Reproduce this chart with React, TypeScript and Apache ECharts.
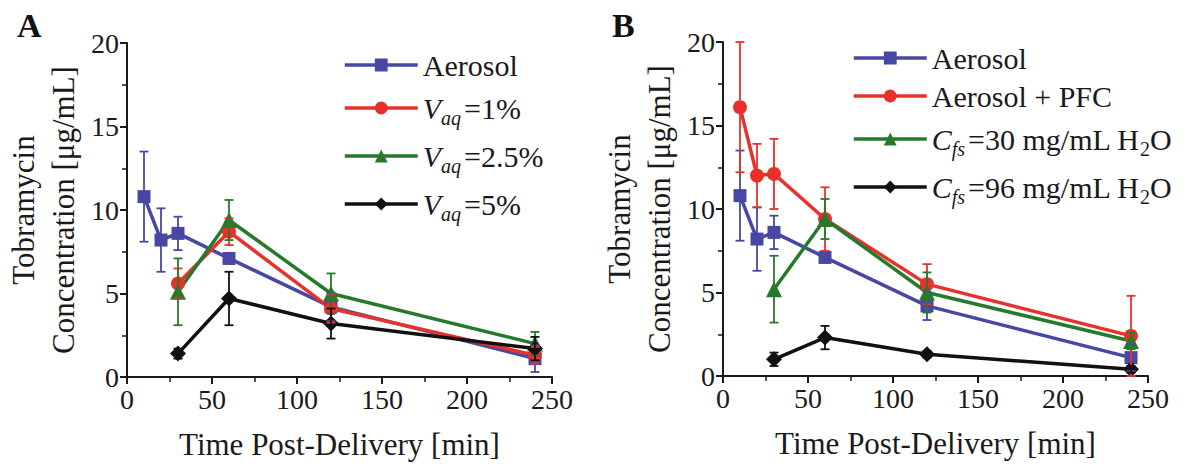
import React, { useEffect, useRef } from 'react';
import * as echarts from 'echarts';

// ---- data ----
const timeAll = [10, 20, 30, 60, 120, 240];
const timeLate = [30, 60, 120, 240];

const aerosolMean = [10.8, 8.2, 8.6, 7.1, 4.2, 1.1];
const aerosolErr = [2.7, 1.9, 1.0, 0.3, 0.85, 0.8];

const vaq1Mean = [5.6, 8.7, 4.1, 1.3];
const vaq1Err = [0.9, 0.8, 0.85, 0.5];
const vaq25Mean = [5.1, 9.4, 5.0, 2.0];
const vaq25Err = [2.0, 1.2, 1.2, 0.7];
const vaq5Mean = [1.4, 4.7, 3.2, 1.7];
const vaq5Err = [0.3, 1.6, 0.9, 0.7];

const pfcMean = [16.1, 12.0, 12.1, 9.4, 5.5, 2.4];
const pfcErr = [3.9, 1.9, 2.1, 1.9, 1.2, 2.4];
const cfs30Mean = [5.2, 9.4, 5.0, 2.1];
const cfs30Err = [2.0, 1.2, 1.2, 0.5];
const cfs96Mean = [1.0, 2.3, 1.3, 0.4];
const cfs96Err = [0.4, 0.7, 0.2, 0.2];

const legendA = ['Aerosol', 'Vaq = 1%', 'Vaq = 2.5%', 'Vaq = 5%'];
const legendB = ['Aerosol', 'Aerosol + PFC', 'Cfs = 30 mg/mL H2O', 'Cfs = 96 mg/mL H2O'];

const FONT = '"Liberation Serif", "Times New Roman", Times, serif';
const TXT = '#1a1a1a';
const BLUE = '#4848a4';
const RED = '#e8312b';
const GREEN = '#267a2c';
const BLACK = '#111111';

const legendRich: Record<string, string> = {
  'Aerosol': 'Aerosol',
  'Aerosol + PFC': 'Aerosol + PFC',
  'Vaq = 1%': '{i|V}{s|aq}{n|=1%}',
  'Vaq = 2.5%': '{i|V}{s|aq}{n|=2.5%}',
  'Vaq = 5%': '{i|V}{s|aq}{n|=5%}',
  'Cfs = 30 mg/mL H2O': '{i|C}{s|fs}{n|=30 mg/mL H}{h|2}{n|O}',
  'Cfs = 96 mg/mL H2O': '{i|C}{s|fs}{n|=96 mg/mL H}{h|2}{n|O}',
};

function lineSeries(name: string, xs: number[], ys: number[], color: string, symbol: string, size: number, gi: number) {
  return {
    type: 'line',
    name,
    xAxisIndex: gi,
    yAxisIndex: gi,
    data: xs.map((x, i) => [x, ys[i]]),
    symbol,
    symbolSize: size,
    showAllSymbol: true,
    lineStyle: { color, width: 3.5 },
    itemStyle: { color },
    z: 3,
  };
}

function errSeries(name: string, xs: number[], ys: number[], es: number[], color: string, gi: number) {
  return {
    type: 'custom',
    name: name + ' (SD)',
    xAxisIndex: gi,
    yAxisIndex: gi,
    silent: true,
    z: 4,
    data: xs.map((x, i) => [x, Math.max(0, ys[i] - es[i]), ys[i] + es[i]]),
    encode: { x: 0, y: [1, 2] },
    renderItem: (_p: any, api: any) => {
      const top = api.coord([api.value(0), api.value(2)]);
      const bot = api.coord([api.value(0), api.value(1)]);
      const w = 4.5;
      const st = { stroke: color, lineWidth: 1.8 };
      return {
        type: 'group',
        children: [
          { type: 'line', shape: { x1: top[0], y1: top[1], x2: bot[0], y2: bot[1] }, style: st },
          { type: 'line', shape: { x1: top[0] - w, y1: top[1], x2: top[0] + w, y2: top[1] }, style: st },
          { type: 'line', shape: { x1: bot[0] - w, y1: bot[1], x2: bot[0] + w, y2: bot[1] }, style: st },
        ],
      };
    },
  };
}

function xAxis(gi: number) {
  return {
    type: 'value',
    gridIndex: gi,
    min: 0,
    max: 250,
    interval: 50,
    splitLine: { show: false },
    axisLine: { show: true, onZero: false, lineStyle: { color: TXT, width: 2 } },
    axisTick: { show: true, inside: false, length: 7, lineStyle: { color: TXT, width: 2 } },
    minorTick: { show: true, splitNumber: 2, length: 5, lineStyle: { color: TXT, width: 1.5 } },
    axisLabel: { fontFamily: FONT, fontSize: 28, color: TXT, margin: 8 },
    name: 'Time Post-Delivery [min]',
    nameLocation: 'middle',
    nameGap: 52,
    nameTextStyle: { fontFamily: FONT, fontSize: 31, color: TXT },
  };
}

function yAxis(gi: number) {
  return {
    type: 'value',
    gridIndex: gi,
    min: 0,
    max: 20,
    interval: 5,
    splitLine: { show: false },
    axisLine: { show: true, onZero: false, lineStyle: { color: TXT, width: 2 } },
    axisTick: { show: true, inside: false, length: 7, lineStyle: { color: TXT, width: 2 } },
    minorTick: { show: true, splitNumber: 2, length: 5, lineStyle: { color: TXT, width: 1.5 } },
    axisLabel: { fontFamily: FONT, fontSize: 28, color: TXT, margin: 8 },
    name: 'Tobramycin\nConcentration [μg/mL]',
    nameLocation: 'middle',
    nameRotate: 90,
    nameGap: 44,
    nameTextStyle: { fontFamily: FONT, fontSize: 31, color: TXT, lineHeight: 40 },
  };
}

const rich = {
  n: { fontFamily: FONT, fontSize: 30, color: TXT },
  i: { fontFamily: FONT, fontSize: 30, color: TXT, fontStyle: 'italic' },
  s: { fontFamily: FONT, fontSize: 20, color: TXT, fontStyle: 'italic', lineHeight: 18, padding: [20, 3, 0, 0] },
  h: { fontFamily: FONT, fontSize: 20, color: TXT, lineHeight: 18, padding: [20, 0, 0, 0] },
};

function legend(data: string[], left: number, top: number) {
  return {
    orient: 'vertical',
    left,
    top,
    padding: 0,
    itemWidth: 73,
    itemHeight: 16,
    itemGap: 8,
    selectedMode: false,
    data,
    lineStyle: { width: 3.5 },
    formatter: (n: string) => legendRich[n] ?? n,
    textStyle: { fontFamily: FONT, fontSize: 30, color: TXT, rich },
  };
}

export default function App() {
  const ref = useRef<HTMLDivElement>(null);
  useEffect(() => {
    if (!ref.current) return;
    const chart = echarts.init(ref.current, undefined, { renderer: 'svg' });
    chart.setOption({
      animation: false,
      backgroundColor: '#ffffff',
      grid: [
        { left: 127, top: 43, width: 425, height: 334 },
        { left: 723, top: 42, width: 425, height: 334 },
      ],
      xAxis: [xAxis(0), xAxis(1)],
      yAxis: [yAxis(0), yAxis(1)],
      legend: [legend(legendA, 343, 50), legend(legendB, 852, 43)],
      graphic: [
        { type: 'text', left: 17, top: 8, style: { text: 'A', fontFamily: FONT, fontSize: 34, fontWeight: 'bold', fill: BLACK } },
        { type: 'text', left: 612, top: 8, style: { text: 'B', fontFamily: FONT, fontSize: 34, fontWeight: 'bold', fill: BLACK } },
      ],
      series: [
        lineSeries('Aerosol', timeAll, aerosolMean, BLUE, 'rect', 13, 0),
        lineSeries('Vaq = 1%', timeLate, vaq1Mean, RED, 'circle', 14, 0),
        lineSeries('Vaq = 2.5%', timeLate, vaq25Mean, GREEN, 'triangle', 16, 0),
        lineSeries('Vaq = 5%', timeLate, vaq5Mean, BLACK, 'diamond', 16, 0),
        lineSeries('Aerosol', timeAll, aerosolMean, BLUE, 'rect', 13, 1),
        lineSeries('Aerosol + PFC', timeAll, pfcMean, RED, 'circle', 14, 1),
        lineSeries('Cfs = 30 mg/mL H2O', timeLate, cfs30Mean, GREEN, 'triangle', 16, 1),
        lineSeries('Cfs = 96 mg/mL H2O', timeLate, cfs96Mean, BLACK, 'diamond', 16, 1),
        errSeries('Aerosol A', timeAll, aerosolMean, aerosolErr, BLUE, 0),
        errSeries('Vaq = 1%', timeLate, vaq1Mean, vaq1Err, RED, 0),
        errSeries('Vaq = 2.5%', timeLate, vaq25Mean, vaq25Err, GREEN, 0),
        errSeries('Vaq = 5%', timeLate, vaq5Mean, vaq5Err, BLACK, 0),
        errSeries('Aerosol B', timeAll, aerosolMean, aerosolErr, BLUE, 1),
        errSeries('Aerosol + PFC', timeAll, pfcMean, pfcErr, RED, 1),
        errSeries('Cfs = 30 mg/mL H2O', timeLate, cfs30Mean, cfs30Err, GREEN, 1),
        errSeries('Cfs = 96 mg/mL H2O', timeLate, cfs96Mean, cfs96Err, BLACK, 1),
      ],
    });
    return () => chart.dispose();
  }, []);
  return (
    <div
      ref={ref}
      style={{ position: 'absolute', left: 0, top: 0, width: 1195, height: 468 }}
    />
  );
}
